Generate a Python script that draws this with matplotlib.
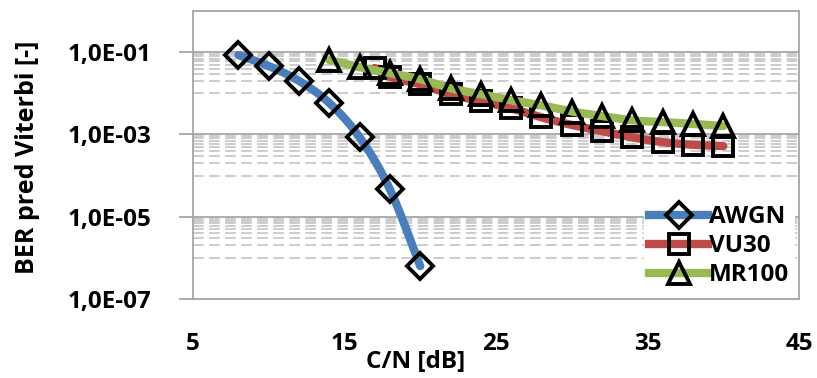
import numpy as np
import matplotlib
matplotlib.use("Agg")
import matplotlib.pyplot as plt
from matplotlib.lines import Line2D

# ---- data ----
awgn_x = [8, 10, 12, 14, 16, 18, 20]
awgn_y = [8.5e-2, 4.6e-2, 2.0e-2, 5.8e-3, 8.5e-4, 4.6e-5, 6.3e-7]

vu30_x = [17, 18, 20, 22, 24, 26, 28, 30, 32, 34, 36, 38, 40]
vu30_y = [4.1e-2, 2.5e-2, 1.66e-2, 9.5e-3, 6.4e-3, 4.3e-3, 2.6e-3, 1.7e-3,
          1.2e-3, 8.5e-4, 6.5e-4, 5.6e-4, 5.2e-4]

mr100_x = [14, 16, 18, 20, 22, 24, 26, 28, 30, 32, 34, 36, 38, 40]
mr100_y = [6.4e-2, 4.3e-2, 3.1e-2, 2.2e-2, 1.32e-2, 9.5e-3, 6.8e-3, 5.1e-3,
           3.6e-3, 2.8e-3, 2.2e-3, 2.0e-3, 1.8e-3, 1.6e-3]

series_names = ["AWGN", "VU30", "MR100"]
x_ticks = [5, 15, 25, 35, 45]
y_ticks = [1e-7, 1e-5, 1e-3, 1e-1]
y_tick_labels = ["1,0E-07", "1,0E-05", "1,0E-03", "1,0E-01"]
x_label = "C/N [dB]"
y_label = "BER pred Viterbi [-]"

# ---- style ----
FONT = "Open Sans"
plt.rcParams['font.family'] = [FONT, 'DejaVu Sans']
FS = 17.5
colors = ["#4A7EBB", "#BE4B48", "#98B954"]
markers = ["D", "s", "^"]
msizes = [13.5, 15, 16]
MEW = 2.8
LW = 6


def smooth(xs, ys, n=30):
    """Excel-like smoothed line (Catmull-Rom Bezier) in (x, log10 y) space."""
    px = np.asarray(xs, float)
    py = np.log10(np.asarray(ys, float))
    P = np.column_stack([px, py])
    out = []
    m = len(P)
    for i in range(m - 1):
        p0 = P[i - 1] if i > 0 else P[i]
        p1 = P[i]
        p2 = P[i + 1]
        p3 = P[i + 2] if i + 2 < m else P[i + 1]
        c1 = p1 + (p2 - p0) / 6.0
        c2 = p2 - (p3 - p1) / 6.0
        t = np.linspace(0, 1, n)[:, None]
        seg = ((1 - t) ** 3) * p1 + 3 * ((1 - t) ** 2) * t * c1 + 3 * (1 - t) * t ** 2 * c2 + t ** 3 * p2
        out.append(seg if i == 0 else seg[1:])
    S = np.vstack(out)
    return S[:, 0], 10 ** S[:, 1]


W, H = 817, 378
fig = plt.figure(figsize=(W / 100, H / 100), dpi=100)
ax = fig.add_axes([193 / W, (H - 299) / H, (799 - 193) / W, (299 - 11) / H])

ax.set_yscale("log")
ax.set_xlim(5, 45)
ax.set_ylim(1e-7, 1)

# gridlines
major_c = "#A6A6A6"
minor_c = "#BFBFBF"
for yt in y_ticks:
    ax.axhline(yt, color=major_c, lw=1.3, zorder=1)
for base in [1e-7, 1e-5, 1e-3]:
    for k in range(1, 10):
        ax.axhline(base * 10 * k, color=minor_c, lw=1.1, ls=(0, (7, 3.5)), zorder=1)

data = [(awgn_x, awgn_y), (vu30_x, vu30_y), (mr100_x, mr100_y)]
for i, (xs, ys) in enumerate(data):
    sx, sy = smooth(xs, ys)
    ax.plot(sx, sy, color=colors[i], lw=LW, solid_capstyle="round", zorder=2 + i)
    ax.plot(xs, ys, ls="none", marker=markers[i], ms=msizes[i], mfc="none",
            mec="black", mew=MEW, zorder=2 + i)

# spines
for s in ["left", "top", "right", "bottom"]:
    ax.spines[s].set_color(major_c)
    ax.spines[s].set_linewidth(1.3)

ax.set_yticks(y_ticks)
ax.set_yticklabels(y_tick_labels)
ax.yaxis.set_minor_locator(matplotlib.ticker.NullLocator())
ax.tick_params(axis="y", which="major", length=10, width=1.3, color=major_c,
               pad=20, labelsize=FS)
ax.set_xticks(x_ticks)
ax.set_xticklabels([str(v) for v in x_ticks])
ax.tick_params(axis="x", which="major", length=0, pad=24, labelsize=FS)
for lab in ax.get_xticklabels() + ax.get_yticklabels():
    lab.set_fontweight("bold")

ax.set_xlabel(x_label, fontsize=FS, fontweight="bold")
ax.xaxis.set_label_coords((416 - 193) / 606, (299 - 362) / 288)
ax.xaxis.label.set_va("center")
ax.set_ylabel(y_label, fontsize=FS + 0.5, fontweight="bold")
ax.yaxis.set_label_coords((28 - 193) / 606, (299 - 157) / 288)
ax.yaxis.label.set_va("center")

handles = [Line2D([0], [0], color=colors[i], lw=LW, marker=markers[i], ms=msizes[i],
                  mfc="none", mec="black", mew=MEW) for i in range(3)]
leg = ax.legend(handles, series_names, loc="lower right",
                bbox_to_anchor=((794 - 193) / 606, (299 - 292) / 288),
                frameon=True, fancybox=False, framealpha=1, edgecolor="white",
                facecolor="white", prop={"family": FONT, "weight": "bold", "size": FS},
                handlelength=2.4, handletextpad=0.05, labelspacing=0.2,
                borderpad=0.2, borderaxespad=0)
leg.set_zorder(10)

fig.savefig("out.png", dpi=100)
